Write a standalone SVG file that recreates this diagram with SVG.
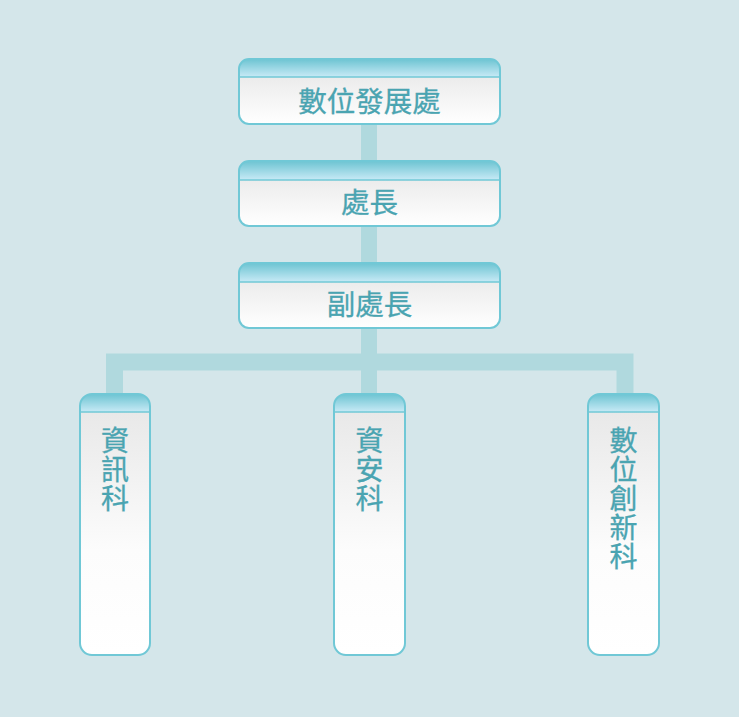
<svg xmlns="http://www.w3.org/2000/svg" width="739" height="717" viewBox="0 0 739 717">
<defs>
<linearGradient id="body" x1="0" y1="0" x2="0" y2="1">
<stop offset="0" stop-color="#e4e4e4"/>
<stop offset="1" stop-color="#ffffff"/>
</linearGradient>
<linearGradient id="leafbody" x1="0" y1="0" x2="0" y2="1">
<stop offset="0" stop-color="#e6e6e6"/>
<stop offset="0.6" stop-color="#fcfcfc"/>
<stop offset="1" stop-color="#ffffff"/>
</linearGradient>
<linearGradient id="head" x1="0" y1="0" x2="0" y2="1">
<stop offset="0" stop-color="#6dc4d2"/>
<stop offset="1" stop-color="#c8eaf6"/>
</linearGradient>
<style>
.frame{fill:none;stroke:#70c8d6;stroke-width:2}
.sep{stroke:#70c8d6;stroke-width:1.5}
.lbl{font-family:"Noto Sans CJK TC","Noto Sans CJK SC",sans-serif;font-size:28.5px;font-weight:400;fill:#4aa4b1;stroke:#4aa4b1;stroke-width:0.3;text-anchor:middle}
.vlbl{font-family:"Noto Sans CJK TC","Noto Sans CJK SC",sans-serif;font-size:28px;font-weight:400;fill:#4aa4b1;stroke:#4aa4b1;stroke-width:0.3;writing-mode:vertical-rl;text-anchor:start;letter-spacing:1px}
.conn{fill:none;stroke:#b0d9de}
</style>
</defs>
<rect x="0" y="0" width="739" height="717" fill="#d4e6ea"/>
<g id="connectors">
<line class="conn" x1="369" y1="124" x2="369" y2="394" stroke-width="16"/>
<polyline class="conn" points="114.5,394 114.5,362 625,362 625,394" stroke-width="17" stroke-linejoin="miter"/>
</g>
<g id="node-top">
<rect x="239" y="59" width="261" height="65" rx="10" fill="url(#body)"/>
<path d="M239,77 V69 a10,10 0 0 1 10,-10 H490 a10,10 0 0 1 10,10 V77 Z" fill="url(#head)"/>
<line class="sep" x1="239" y1="77" x2="500" y2="77"/>
<rect class="frame" x="239" y="59" width="261" height="65" rx="10"/>
<text class="lbl" x="369.5" y="111.5">數位發展處</text>
</g>
<g id="node-director">
<rect x="239" y="161" width="261" height="65" rx="10" fill="url(#body)"/>
<path d="M239,180 V171 a10,10 0 0 1 10,-10 H490 a10,10 0 0 1 10,10 V180 Z" fill="url(#head)"/>
<line class="sep" x1="239" y1="180" x2="500" y2="180"/>
<rect class="frame" x="239" y="161" width="261" height="65" rx="10"/>
<text class="lbl" x="369.5" y="212.5">處長</text>
</g>
<g id="node-deputy">
<rect x="239" y="263" width="261" height="65" rx="10" fill="url(#body)"/>
<path d="M239,282 V273 a10,10 0 0 1 10,-10 H490 a10,10 0 0 1 10,10 V282 Z" fill="url(#head)"/>
<line class="sep" x1="239" y1="282" x2="500" y2="282"/>
<rect class="frame" x="239" y="263" width="261" height="65" rx="10"/>
<text class="lbl" x="369.5" y="314.5">副處長</text>
</g>
<g id="node-info">
<rect x="80" y="394" width="70" height="261" rx="12" fill="url(#leafbody)"/>
<path d="M80,412 V406 a12,12 0 0 1 12,-12 H138 a12,12 0 0 1 12,12 V412 Z" fill="url(#head)"/>
<line class="sep" x1="80" y1="412" x2="150" y2="412"/>
<rect class="frame" x="80" y="394" width="70" height="261" rx="12"/>
<text class="vlbl" x="115" y="426">資訊科</text>
</g>
<g id="node-security">
<rect x="334" y="394" width="71" height="261" rx="12" fill="url(#leafbody)"/>
<path d="M334,412 V406 a12,12 0 0 1 12,-12 H393 a12,12 0 0 1 12,12 V412 Z" fill="url(#head)"/>
<line class="sep" x1="334" y1="412" x2="405" y2="412"/>
<rect class="frame" x="334" y="394" width="71" height="261" rx="12"/>
<text class="vlbl" x="369.5" y="426">資安科</text>
</g>
<g id="node-innovation">
<rect x="588" y="394" width="71" height="261" rx="12" fill="url(#leafbody)"/>
<path d="M588,412 V406 a12,12 0 0 1 12,-12 H647 a12,12 0 0 1 12,12 V412 Z" fill="url(#head)"/>
<line class="sep" x1="588" y1="412" x2="659" y2="412"/>
<rect class="frame" x="588" y="394" width="71" height="261" rx="12"/>
<text class="vlbl" x="623.5" y="426">數位創新科</text>
</g>
</svg>
